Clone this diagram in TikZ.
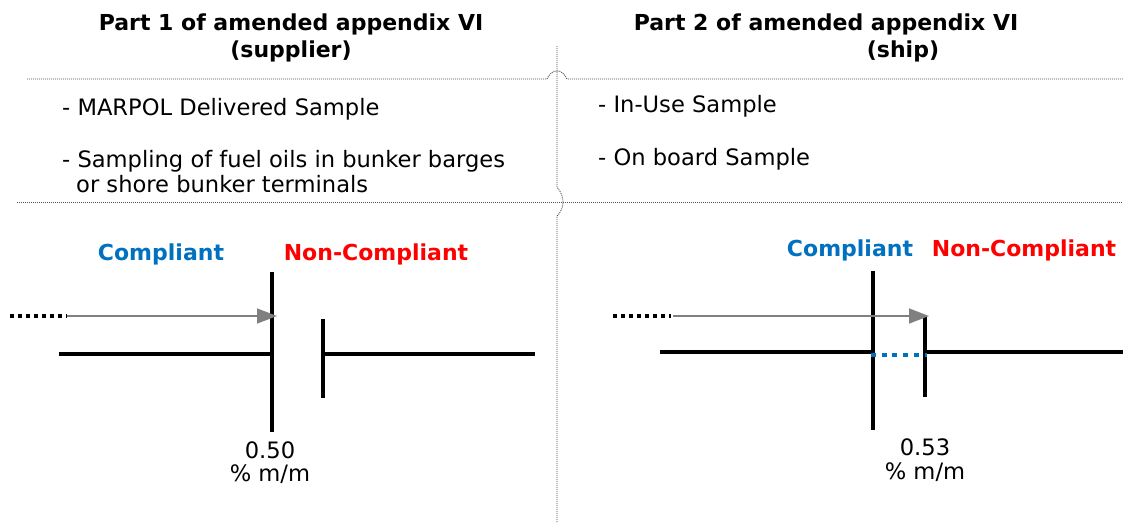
\documentclass[tikz,border=0pt]{standalone}
\usepackage{fontspec}
\setmainfont{DejaVu Sans}
\usetikzlibrary{arrows.meta}
\definecolor{okblue}{HTML}{0070C0}
\definecolor{ngred}{HTML}{FF0000}
\definecolor{sepgray}{HTML}{505050}
\definecolor{arrowgray}{HTML}{808080}

\begin{document}
\begin{tikzpicture}[x=1pt,y=-1pt,
  hdr/.style={inner sep=0pt, anchor=base, font=\fontsize{22}{25}\selectfont\bfseries},
  item/.style={inner sep=0pt, anchor=base west, font=\fontsize{22.6}{25}\selectfont},
  valtxt/.style={inner sep=0pt, anchor=base, font=\fontsize{22.6}{25}\selectfont},
  oklabel/.style={hdr, text=okblue},
  nglabel/.style={hdr, text=ngred},
  sep/.style={draw=sepgray, line width=0.9pt, dash pattern=on 1pt off 1pt},
  bar/.style={draw=black, line width=4pt},
  lead/.style={draw=black, line width=3.5pt, dash pattern=on 4pt off 4pt},
  gap/.style={draw=okblue, line width=4.5pt, dash pattern=on 5pt off 5.7pt},
  trend/.style={draw=arrowgray, line width=1.5pt, -{Triangle[length=20pt,width=15pt]}}
]
\useasboundingbox (0,0) rectangle (1123,523);

% ---- separators with line hops
\draw[sep] (27,79) -- (547,79) .. controls (550,73) and (553,71) .. (557,71)
  .. controls (561,71) and (564,73) .. (567,79) -- (1123,79);
\draw[sep] (17,202) -- (1123,202);
\draw[sep] (557,46) -- (557,187) .. controls (561,192) and (563,197) .. (563,202)
  .. controls (563,207) and (561,212) .. (557,216) -- (557,523);

% ---- headings
\node[hdr] (h1a) at (291,30) {Part 1 of amended appendix VI};
\node[hdr] (h1b) at (291,57) {(supplier)};
\node[hdr] (h2a) at (826,30) {Part 2 of amended appendix VI};
\node[hdr] (h2b) at (903,57) {(ship)};

% ---- sample lists
\node[item] (s1) at (62,115) {- MARPOL Delivered Sample};
\node[item] (s2) at (62,167) {- Sampling of fuel oils in bunker barges};
\node[item] (s3) at (76,192) {or shore bunker terminals};
\node[item] (s4) at (598,112) {- In-Use Sample};
\node[item] (s5) at (598,165) {- On board Sample};

% ---- left scale (supplier)
\node[oklabel] (lok) at (161,260) {Compliant};
\node[nglabel] (lng) at (376,260) {Non-Compliant};
\coordinate (L-lead0) at (10,316);
\coordinate (L-lead1) at (67,316);
\coordinate (L-tip) at (277,316);
\coordinate (L-lim-top) at (272,272);
\coordinate (L-lim-bot) at (272,432);
\coordinate (L-step-top) at (323,319);
\coordinate (L-step-bot) at (323,398);
\coordinate (L-base0) at (59,354);
\coordinate (L-base1) at (272,354);
\coordinate (L-base2) at (323,354);
\coordinate (L-base3) at (535,354);
\draw[bar] (L-base0) -- (L-base1);
\draw[bar] (L-base2) -- (L-base3);
\draw[bar] (L-lim-top) -- (L-lim-bot);
\draw[bar] (L-step-top) -- (L-step-bot);
\draw[lead] (L-lead0) -- (L-lead1);
\draw[trend] (L-lead1) -- (L-tip);
\node[valtxt] (lv) at (270,458) {0.50};
\node[valtxt] (lu) at (270,481) {\% m/m};

% ---- right scale (ship)
\node[oklabel] (rok) at (850,256) {Compliant};
\node[nglabel] (rng) at (1024,256) {Non-Compliant};
\coordinate (R-lead0) at (613,316);
\coordinate (R-lead1) at (671,316);
\coordinate (R-arrow0) at (673,316);
\coordinate (R-tip) at (929,316);
\coordinate (R-lim-top) at (873,271);
\coordinate (R-lim-bot) at (873,430);
\coordinate (R-step-top) at (925,317);
\coordinate (R-step-bot) at (925,397);
\coordinate (R-base0) at (660,352);
\coordinate (R-base1) at (873,352);
\coordinate (R-base2) at (925,352);
\coordinate (R-base3) at (1123,352);
\coordinate (R-gap0) at (871,355);
\coordinate (R-gap1) at (927,355);
\draw[bar] (R-base0) -- (R-base1);
\draw[bar] (R-base2) -- (R-base3);
\draw[bar] (R-lim-top) -- (R-lim-bot);
\draw[bar] (R-step-top) -- (R-step-bot);
\draw[gap] (R-gap0) -- (R-gap1);
\draw[lead] (R-lead0) -- (R-lead1);
\draw[trend] (R-arrow0) -- (R-tip);
\node[valtxt] (rv) at (925,455) {0.53};
\node[valtxt] (ru) at (925,479) {\% m/m};
\end{tikzpicture}
\end{document}
